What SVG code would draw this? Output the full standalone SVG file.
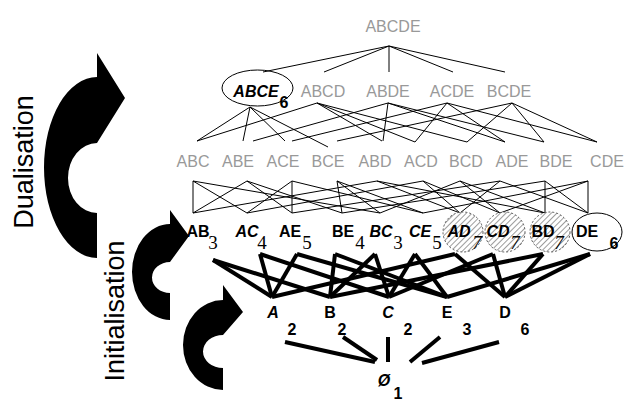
<svg xmlns="http://www.w3.org/2000/svg" width="628" height="403" viewBox="0 0 628 403">
<style>
.g{font-family:"Liberation Sans",Arial,sans-serif;font-size:16px;fill:#999;text-anchor:middle}
.b{font-family:"Liberation Sans",Arial,sans-serif;font-size:16px;font-weight:bold;fill:#000;text-anchor:middle}
.s{font-family:"Liberation Serif","Times New Roman",serif;font-size:19px;fill:#000;text-anchor:middle}
.sb{font-family:"Liberation Sans",Arial,sans-serif;font-size:16px;font-weight:bold;fill:#000;text-anchor:middle}
.thin line{stroke:#000;stroke-width:1}
.thick line{stroke:#000;stroke-width:4}
.side{font-family:"Liberation Sans",Arial,sans-serif;font-size:27px;fill:#000;text-anchor:middle}
.hc{fill:url(#hatch);stroke:#555;stroke-width:1;stroke-dasharray:2 2}
</style>
<defs>
<pattern id="hatch" patternUnits="userSpaceOnUse" width="4" height="4" patternTransform="rotate(45)">
<rect width="4" height="4" fill="#fff"/>
<line x1="0" y1="0" x2="0" y2="4" stroke="#666" stroke-width="1.3"/>
</pattern>
</defs>
<rect width="628" height="403" fill="#fff"/>

<g id="arrows">
<path d="M97,258 A53,90.5 0 0 1 97,77 L97,53 L125,98 L97,143 A29,35 0 0 0 97,213 Z" fill="#000"/>
<path d="M170,320 A38,48 0 0 1 170,224 L170,210 L189,236 L170,262 A18,15.5 0 0 0 170,293 Z" fill="#000"/>
<path d="M223,390 A40,45 0 0 1 223,300 L223,285 L243,312 L223,335 A20,16.5 0 0 0 223,368 Z" fill="#000"/>
<text class="side" transform="translate(33,162) rotate(-90)">Dualisation</text>
<text class="side" transform="translate(124,311) rotate(-90)">Initialisation</text>
</g>

<g id="connectors">
<g class="thin">
<line x1="389" y1="46" x2="263" y2="72"/>
<line x1="389" y1="46" x2="324" y2="72"/>
<line x1="389" y1="46" x2="389" y2="72"/>
<line x1="389" y1="46" x2="453" y2="72"/>
<line x1="389" y1="46" x2="505" y2="72"/>

<line x1="250" y1="107" x2="197" y2="141"/>
<line x1="250" y1="107" x2="243" y2="141"/>
<line x1="250" y1="107" x2="285" y2="141"/>
<line x1="250" y1="107" x2="328" y2="147"/>
<line x1="317" y1="103" x2="197" y2="141"/>
<line x1="317" y1="103" x2="382" y2="141"/>
<line x1="317" y1="103" x2="415" y2="142"/>
<line x1="317" y1="103" x2="467" y2="142"/>
<line x1="388" y1="103" x2="253" y2="141"/>
<line x1="388" y1="103" x2="383" y2="141"/>
<line x1="388" y1="103" x2="505" y2="142"/>
<line x1="388" y1="103" x2="544" y2="142"/>
<line x1="447" y1="103" x2="292" y2="141"/>
<line x1="447" y1="103" x2="415" y2="142"/>
<line x1="447" y1="103" x2="505" y2="142"/>
<line x1="447" y1="103" x2="597" y2="142"/>
<line x1="512" y1="103" x2="337" y2="141"/>
<line x1="512" y1="103" x2="467" y2="142"/>
<line x1="512" y1="103" x2="544" y2="142"/>
<line x1="512" y1="103" x2="597" y2="142"/>

<line x1="193" y1="181" x2="193" y2="213"/>
<line x1="193" y1="181" x2="247" y2="213"/>
<line x1="193" y1="181" x2="380" y2="213"/>
<line x1="247" y1="181" x2="193" y2="213"/>
<line x1="247" y1="181" x2="292" y2="213"/>
<line x1="247" y1="181" x2="342" y2="213"/>
<line x1="292" y1="181" x2="247" y2="213"/>
<line x1="292" y1="181" x2="292" y2="213"/>
<line x1="292" y1="181" x2="423" y2="213"/>
<line x1="337" y1="181" x2="380" y2="213"/>
<line x1="337" y1="181" x2="342" y2="213"/>
<line x1="337" y1="181" x2="423" y2="213"/>
<line x1="377" y1="181" x2="193" y2="213"/>
<line x1="377" y1="181" x2="460" y2="213"/>
<line x1="377" y1="181" x2="545" y2="213"/>
<line x1="423" y1="181" x2="247" y2="213"/>
<line x1="423" y1="181" x2="460" y2="213"/>
<line x1="423" y1="181" x2="500" y2="213"/>
<line x1="460" y1="181" x2="380" y2="213"/>
<line x1="460" y1="181" x2="545" y2="213"/>
<line x1="460" y1="181" x2="500" y2="213"/>
<line x1="500" y1="181" x2="460" y2="213"/>
<line x1="500" y1="181" x2="292" y2="213"/>
<line x1="500" y1="181" x2="588" y2="213"/>
<line x1="545" y1="181" x2="545" y2="213"/>
<line x1="545" y1="181" x2="342" y2="213"/>
<line x1="545" y1="181" x2="588" y2="213"/>
<line x1="588" y1="181" x2="500" y2="213"/>
<line x1="588" y1="181" x2="423" y2="213"/>
<line x1="588" y1="181" x2="588" y2="213"/>
</g>
<g class="thick">
<line x1="213" y1="260" x2="272" y2="297"/>
<line x1="213" y1="260" x2="330" y2="297"/>
<line x1="260" y1="254" x2="272" y2="297"/>
<line x1="260" y1="254" x2="389" y2="297"/>
<line x1="297" y1="254" x2="272" y2="297"/>
<line x1="297" y1="254" x2="447" y2="297"/>
<line x1="335" y1="254" x2="330" y2="297"/>
<line x1="335" y1="254" x2="447" y2="297"/>
<line x1="375" y1="254" x2="330" y2="297"/>
<line x1="375" y1="254" x2="389" y2="297"/>
<line x1="415" y1="254" x2="389" y2="297"/>
<line x1="415" y1="254" x2="447" y2="297"/>
<line x1="455" y1="254" x2="272" y2="297"/>
<line x1="455" y1="254" x2="505" y2="297"/>
<line x1="493" y1="254" x2="389" y2="297"/>
<line x1="493" y1="254" x2="505" y2="297"/>
<line x1="543" y1="254" x2="330" y2="297"/>
<line x1="543" y1="254" x2="505" y2="297"/>
<line x1="590" y1="254" x2="447" y2="297"/>
<line x1="590" y1="254" x2="505" y2="297"/>

<line x1="285" y1="342" x2="375" y2="362"/>
<line x1="343" y1="337" x2="377" y2="360"/>
<line x1="388" y1="337" x2="388" y2="362"/>
<line x1="440" y1="337" x2="410" y2="362"/>
<line x1="499" y1="342" x2="422" y2="363"/>
</g>
</g>

<g id="ABCDE"><text class="g" x="393" y="32">ABCDE</text></g>

<g id="ABCE"><ellipse cx="257.5" cy="88" rx="35.5" ry="18" fill="none" stroke="#000" stroke-width="1"/><text class="b" x="256" y="97" font-style="italic">ABCE</text><text class="sb" x="284" y="108" font-size="17">6</text></g>
<g id="ABCD"><text class="g" x="323" y="97">ABCD</text></g>
<g id="ABDE"><text class="g" x="388" y="97">ABDE</text></g>
<g id="ACDE"><text class="g" x="452" y="97">ACDE</text></g>
<g id="BCDE"><text class="g" x="509" y="97">BCDE</text></g>

<g id="ABC"><text class="g" x="193" y="167">ABC</text></g>
<g id="ABE"><text class="g" x="238" y="167">ABE</text></g>
<g id="ACE"><text class="g" x="283" y="167">ACE</text></g>
<g id="BCE"><text class="g" x="328" y="167">BCE</text></g>
<g id="ABD"><text class="g" x="375" y="167">ABD</text></g>
<g id="ACD"><text class="g" x="421" y="167">ACD</text></g>
<g id="BCD"><text class="g" x="466" y="167">BCD</text></g>
<g id="ADE"><text class="g" x="512" y="167">ADE</text></g>
<g id="BDE"><text class="g" x="556" y="167">BDE</text></g>
<g id="CDE"><text class="g" x="607" y="167">CDE</text></g>

<g id="AB"><text class="b" x="198" y="237">AB</text><text class="s" x="213" y="249">3</text></g>
<g id="AC"><text class="b" x="247" y="237" font-style="italic">AC</text><text class="s" x="262" y="249">4</text></g>
<g id="AE"><text class="b" x="290" y="237">AE</text><text class="s" x="307" y="249">5</text></g>
<g id="BE"><text class="b" x="343" y="237">BE</text><text class="s" x="360" y="249">4</text></g>
<g id="BC"><text class="b" x="381" y="237" font-style="italic">BC</text><text class="s" x="398" y="249">3</text></g>
<g id="CE"><text class="b" x="420" y="237" font-style="italic">CE</text><text class="s" x="437" y="249">5</text></g>
<g id="AD"><circle class="hc" cx="463" cy="232" r="20"/><text class="b" x="459" y="237" font-style="italic">AD</text><text class="s" x="477" y="249" font-style="italic">7</text></g>
<g id="CD"><circle class="hc" cx="505" cy="232" r="20"/><text class="b" x="498" y="237" font-style="italic">CD</text><text class="s" x="515" y="249" font-style="italic">7</text></g>
<g id="BD"><circle class="hc" cx="550" cy="232" r="20"/><text class="b" x="543" y="237">BD</text><text class="s" x="559" y="249" font-style="italic">7</text></g>
<g id="DE"><ellipse cx="597" cy="232" rx="25" ry="19" fill="none" stroke="#000" stroke-width="1"/><text class="b" x="587" y="237">DE</text><text class="sb" x="614" y="249" font-size="17">6</text></g>

<g id="A"><text class="b" x="273" y="318" font-style="italic" font-size="15">A</text><text class="sb" x="292" y="335">2</text></g>
<g id="B"><text class="b" x="330" y="318" font-size="15">B</text><text class="sb" x="342" y="335">2</text></g>
<g id="C"><text class="b" x="388" y="318" font-style="italic" font-size="15">C</text><text class="sb" x="408" y="335">2</text></g>
<g id="E"><text class="b" x="447" y="318" font-size="15">E</text><text class="sb" x="467" y="335">3</text></g>
<g id="D"><text class="b" x="505" y="318" font-size="15">D</text><text class="sb" x="525" y="335">6</text></g>

<g id="empty"><text class="b" x="384" y="386" font-style="italic">Ø</text><text class="sb" x="398" y="399">1</text></g>
</svg>
